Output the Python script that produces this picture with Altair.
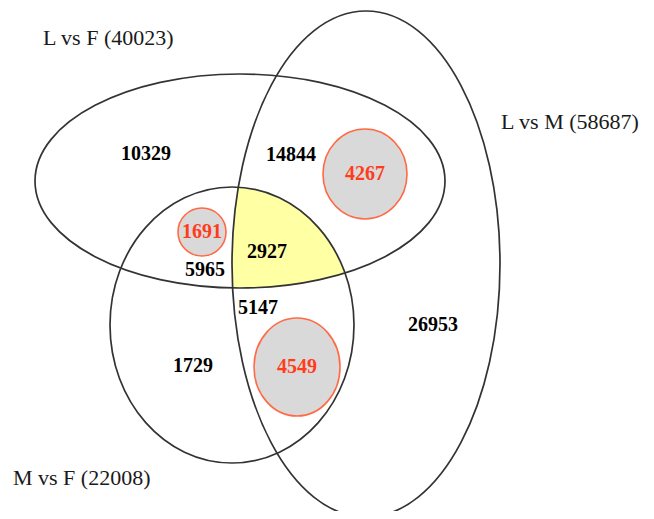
import numpy as np
import pandas as pd
import altair as alt

# ---- data (coordinates in the diagram's own units, y grows downward) ----
set_names = ["L vs F", "L vs M", "M vs F"]
set_totals = [40023, 58687, 22008]
set_cx = [240, 366, 232]
set_cy = [181, 264, 325]
set_rx = [205, 134, 122]
set_ry = [107, 253, 138]
title_x = [43, 501, 13]
title_y = [38, 122, 478]

region_counts = [10329, 14844, 5965, 2927, 5147, 1729, 26953]
region_x = [146, 291, 205, 267, 258, 193, 433]
region_y = [154, 155, 270, 252, 308, 366, 325]

hl_counts = [4267, 1691, 4549]
hl_cx = [365, 202, 297]
hl_cy = [174, 232, 367]
hl_rx = [42, 24, 43]
hl_ry = [45, 24, 49]

X0, X1, Y0, Y1 = 8, 646, 8, 511
W, H = X1 - X0, Y1 - Y0

xs = alt.Scale(domain=[X0, X1], nice=False, zero=False)
ys = alt.Scale(domain=[Y1, Y0], nice=False, zero=False)
X = lambda f: alt.X(f, type="quantitative", scale=xs, axis=None)
Y = lambda f: alt.Y(f, type="quantitative", scale=ys, axis=None)


def ell_path(rx, ry):
    k = ry / rx
    return f"M -1 0 A 1 {k:.5f} 0 1 1 1 0 A 1 {k:.5f} 0 1 1 -1 0 Z"


sets = pd.DataFrame({
    "name": set_names,
    "cx": set_cx, "cy": set_cy,
    "shape": [ell_path(a, b) for a, b in zip(set_rx, set_ry)],
    "size": [(2 * a) ** 2 for a in set_rx],
})
titles = pd.DataFrame({
    "label": [f"{n} ({t})" for n, t in zip(set_names, set_totals)],
    "x": title_x, "y": title_y,
})
regions = pd.DataFrame({"label": [str(v) for v in region_counts],
                        "x": region_x, "y": region_y})
hls = pd.DataFrame({
    "label": [str(v) for v in hl_counts],
    "cx": hl_cx, "cy": hl_cy,
    "shape": [ell_path(a, b) for a, b in zip(hl_rx, hl_ry)],
    "size": [(2 * a) ** 2 for a in hl_rx],
})

# ---- intersection of the three sets (yellow) ----
def inside(px, py, i):
    return ((px - set_cx[i]) / set_rx[i]) ** 2 + ((py - set_cy[i]) / set_ry[i]) ** 2 <= 1 + 1e-9

t = np.linspace(0, 2 * np.pi, 1440, endpoint=False)
pts = []
for i in range(3):
    px = set_cx[i] + set_rx[i] * np.cos(t)
    py = set_cy[i] + set_ry[i] * np.sin(t)
    ok = np.ones_like(px, dtype=bool)
    for j in range(3):
        if j != i:
            ok &= inside(px, py, j)
    pts.append(np.column_stack([px[ok], py[ok]]))
pts = np.vstack(pts)
c = pts.mean(axis=0)
ang = np.arctan2(pts[:, 1] - c[1], pts[:, 0] - c[0])
pts = pts[np.argsort(ang)]
pts = np.vstack([pts, pts[:1]])
core = pd.DataFrame({"x": pts[:, 0], "y": pts[:, 1], "i": np.arange(len(pts))})

# ---- layers ----
yellow = alt.Chart(core).mark_line(fill="#ffffa4", stroke="#ffffa4", strokeWidth=0.5,
                                   interpolate="linear").encode(
    x=X("x"), y=Y("y"), order=alt.Order("i:Q"))

hl_fill = alt.Chart(hls).mark_point(filled=True, fill="#d9d9d9", stroke="#ff6a45",
                                    strokeWidth=1.6, opacity=1).encode(
    x=X("cx"), y=Y("cy"),
    shape=alt.Shape("shape:N", scale=None, legend=None),
    size=alt.Size("size:Q", scale=None, legend=None))

outlines = alt.Chart(sets).mark_point(filled=False, stroke="#333333", strokeWidth=1.7,
                                      opacity=1).encode(
    x=X("cx"), y=Y("cy"),
    shape=alt.Shape("shape:N", scale=None, legend=None),
    size=alt.Size("size:Q", scale=None, legend=None))

font = "Liberation Serif"
title_text = alt.Chart(titles).mark_text(font=font, fontSize=22, align="left",
                                         baseline="middle", color="#1a1a1a").encode(
    x=X("x"), y=Y("y"), text="label:N")
region_text = alt.Chart(regions).mark_text(font=font, fontSize=20, fontWeight="bold",
                                           align="center", baseline="middle",
                                           color="#000000").encode(
    x=X("x"), y=Y("y"), text="label:N")
hl_text = alt.Chart(hls).mark_text(font=font, fontSize=20, fontWeight="bold",
                                   align="center", baseline="middle",
                                   color="#ff3c1c").encode(
    x=X("cx"), y=Y("cy"), text="label:N")

chart = alt.layer(yellow, hl_fill, outlines, title_text, region_text, hl_text).properties(
    width=W, height=H, padding=0,
    autosize=alt.AutoSizeParams(type="none"),
).configure_view(stroke=None)

chart.save("out.html", embed_options={"renderer": "svg", "actions": False})
